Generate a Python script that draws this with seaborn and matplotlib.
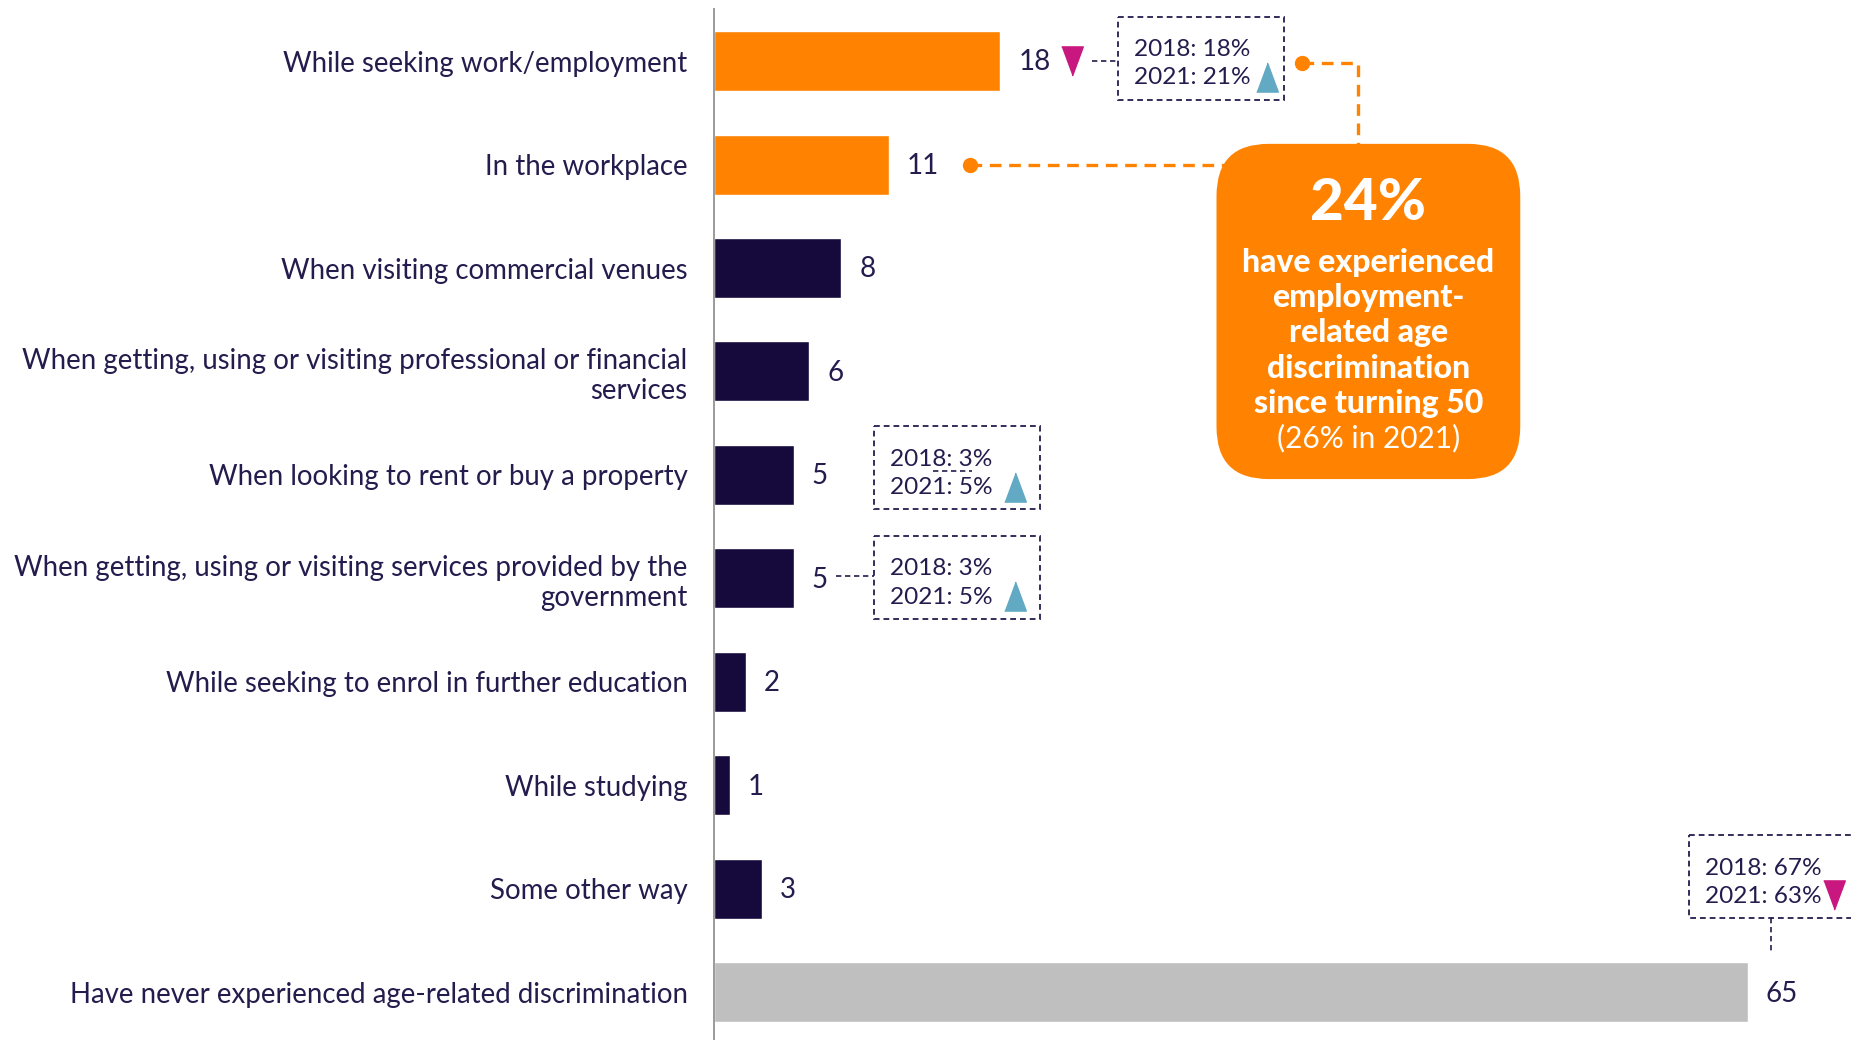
import matplotlib
matplotlib.use("Agg")
import matplotlib.pyplot as plt
import seaborn as sns
import pandas as pd
from matplotlib.patches import Rectangle, FancyBboxPatch
from matplotlib.transforms import IdentityTransform

# ---- data ----
categories = [
    "While seeking work/employment",
    "In the workplace",
    "When visiting commercial venues",
    "When getting, using or visiting professional or financial\nservices",
    "When looking to rent or buy a property",
    "When getting, using or visiting services provided by the\ngovernment",
    "While seeking to enrol in further education",
    "While studying",
    "Some other way",
    "Have never experienced age-related discrimination",
]
values = [18, 11, 8, 6, 5, 5, 2, 1, 3, 65]
groups = ["employment", "employment", "other", "other", "other",
          "other", "other", "other", "other", "never"]

# earlier-wave comparisons shown beside selected bars
compare_rows = [0, 4, 5, 9]
compare_2018 = [18, 3, 3, 67]
compare_2021 = [21, 5, 5, 63]
trend_2021 = ["up", "up", "up", "down"]      # direction 2018 -> 2021
trend_2024 = {0: "down", 9: None}            # marker next to current value

headline_value = "24%"
headline_lines = ["have experienced", "employment-", "related age",
                  "discrimination", "since turning 50"]
headline_prior = "(26% in 2021)"

# ---- style ----
ORANGE = "#FF8300"
NAVY = "#160A3C"
GREY = "#BFBFBF"
TEXT = "#231C4D"
MAGENTA = "#C8177F"
TEAL = "#62A9C4"
palette = {"employment": ORANGE, "other": NAVY, "never": GREY}

sns.set_theme(style="white")
plt.rcParams["font.family"] = ["Lato", "DejaVu Sans"]

fig = plt.figure(figsize=(18.51, 10.40), dpi=100)
ax = fig.add_axes([714 / 1851, -0.0038, 1 - 714 / 1851, 0.9948])

df = pd.DataFrame({"category": categories, "value": values, "group": groups})
sns.barplot(data=df, x="value", y="category", hue="group", palette=palette,
            dodge=False, width=0.58, legend=False, saturation=1, ax=ax)

ax.set_xlim(0, 71.5)
ax.set_ylim(9.5, -0.5)
ax.set_xlabel("")
ax.set_ylabel("")
ax.set_xticks([])
for s in ("top", "right", "bottom"):
    ax.spines[s].set_visible(False)
ax.spines["left"].set_color("#9A9A9A")
ax.spines["left"].set_linewidth(1.4)

ax.set_yticks(range(len(categories)))
ax.set_yticklabels(categories, fontsize=19.9, color=TEXT)
ax.tick_params(axis="y", which="major", length=0, pad=19)
ax.set_yticks([i - 0.5 for i in range(len(categories) + 1)], minor=True)
ax.tick_params(axis="y", which="minor", length=6, width=1.2, color="#9A9A9A",
               direction="out")

# value labels
for i, v in enumerate(values):
    ax.annotate(str(v), xy=(v, i), xytext=(13, -1), textcoords="offset points",
                va="center", ha="left", fontsize=20, color=TEXT)

# triangle markers (tall, narrow)
TRI_DOWN = [(-0.37, 0.5), (0.37, 0.5), (0.0, -0.5)]
TRI_UP = [(-0.37, -0.5), (0.37, -0.5), (0.0, 0.5)]


def tri(x, y, direction, color):
    ax.plot([x], [y], marker=TRI_UP if direction == "up" else TRI_DOWN,
            markersize=21, color=color, linestyle="none", clip_on=False,
            zorder=6)


# comparison boxes: (x0, x1, y_top, y_bottom, text_x, line1_y, line2_y, tri_x)
box_layout = {
    0: (25.4, 35.85, -0.43, 0.375, 26.4, -0.115, 0.16, 34.8),
    4: (10.05, 20.5, 3.53, 4.33, 11.05, 3.855, 4.125, 18.95),
    5: (10.05, 20.5, 4.59, 5.39, 11.05, 4.905, 5.185, 18.95),
    9: (61.3, 73.0, 7.48, 8.28, 62.3, 7.805, 8.075, 70.4),
}
box_ls = (0, (3.2, 2.2))
for k, row in enumerate(compare_rows):
    x0, x1, yt, yb, tx, l1, l2, trx = box_layout[row]
    ax.add_patch(Rectangle((x0, yt), x1 - x0, yb - yt, fill=False,
                           edgecolor=TEXT, linewidth=1.3, linestyle=box_ls,
                           clip_on=False, zorder=4))
    ax.text(tx, l1, f"2018: {compare_2018[k]}%", fontsize=17.6, color=TEXT,
            va="center", ha="left", zorder=5)
    ax.text(tx, l2, f"2021: {compare_2021[k]}%", fontsize=17.6, color=TEXT,
            va="center", ha="left", zorder=5)
    tri(trx, l2 - 0.01, trend_2021[k], TEAL if trend_2021[k] == "up" else MAGENTA)

# current-wave marker next to first bar
tri(22.5, 0.0, trend_2024[0], MAGENTA)

# thin dashed connectors
conn_kw = dict(color=TEXT, linewidth=1.2, linestyle=box_ls, zorder=3)
ax.plot([23.8, 25.4], [0.0, 0.0], **conn_kw)
ax.plot([7.7, 10.05], [4.98, 4.98], **conn_kw)
ax.plot([13.8, 16.2], [3.96, 3.96], **conn_kw)
ax.plot([66.5, 66.5], [8.28, 8.60], **conn_kw)

# orange connectors to the headline box
oconn = dict(color=ORANGE, linewidth=2.4, linestyle=(0, (3.5, 2.3)), zorder=3)
ax.plot([37.0, 40.5, 40.5], [0.02, 0.02, 0.85], **oconn)
ax.plot([37.0], [0.02], marker="o", markersize=10, color=ORANGE, zorder=4)
ax.plot([16.1, 33.0], [1.0, 1.0], **oconn)
ax.plot([16.1], [1.0], marker="o", markersize=10, color=ORANGE, zorder=4)

# headline call-out box (rounded, drawn in display space)
bl = ax.transData.transform((31.6, 4.04))
tr = ax.transData.transform((50.7, 0.80))
ax.add_artist(FancyBboxPatch((bl[0], bl[1]), tr[0] - bl[0], tr[1] - bl[1],
                             boxstyle="round,pad=0,rounding_size=52",
                             transform=IdentityTransform(), facecolor=ORANGE,
                             edgecolor="none", zorder=7, clip_on=False))
cx = 41.15
ax.text(cx, 1.38, headline_value, fontsize=42, fontweight="black",
        color="white", ha="center", va="center", zorder=8)
for yy, line in zip([1.945, 2.285, 2.625, 2.975, 3.305], headline_lines):
    ax.text(cx, yy, line, fontsize=23, fontweight="black", color="white",
            ha="center", va="center", zorder=8)
ax.text(cx, 3.64, headline_prior, fontsize=21.5, color="white",
        ha="center", va="center", zorder=8)

fig.savefig("out.png", dpi=100)
